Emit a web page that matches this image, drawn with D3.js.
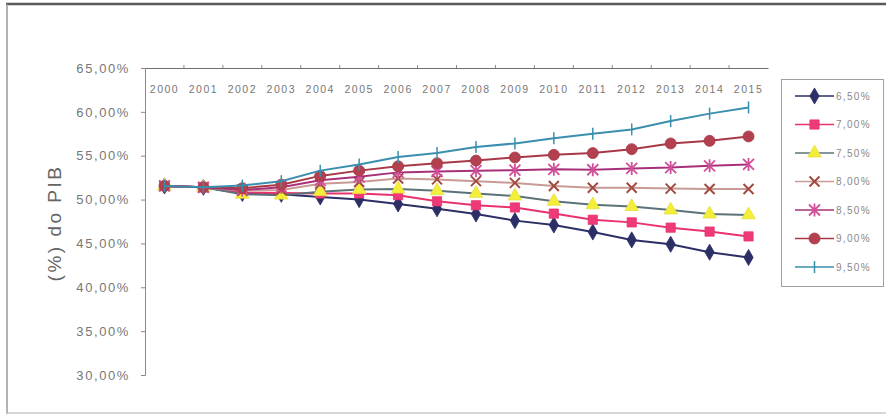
<!DOCTYPE html>
<html>
<head>
<meta charset="utf-8">
<script src="https://cdn.jsdelivr.net/npm/d3@7"></script>
<style>
  html, body { margin: 0; padding: 0; background: #fff; }
  svg { display: block; font-family: "Liberation Sans", Arial, sans-serif; }
</style>
</head>
<body>
<svg id="chart" width="886" height="420"></svg>
<script>
// Debt (% of GDP) projections, one series per rate scenario
const years = ["2000","2001","2002","2003","2004","2005","2006","2007","2008","2009","2010","2011","2012","2013","2014","2015"];
const seriesNames = ["6,50%","7,00%","7,50%","8,00%","8,50%","9,00%","9,50%"];
const s650 = [51.55, 51.4, 50.7, 50.6, 50.3, 50.0, 49.5, 48.95, 48.35, 47.6, 47.1, 46.3, 45.4, 44.9, 44.0, 43.4];
const s700 = [51.55, 51.4, 50.8, 50.75, 50.7, 50.7, 50.5, 49.8, 49.35, 49.1, 48.4, 47.7, 47.4, 46.8, 46.35, 45.8];
const s750 = [51.55, 51.4, 50.6, 50.5, 50.9, 51.15, 51.2, 51.0, 50.7, 50.4, 49.8, 49.4, 49.2, 48.8, 48.35, 48.25];
const s800 = [51.55, 51.4, 51.0, 51.1, 51.8, 52.0, 52.4, 52.3, 52.1, 51.9, 51.55, 51.35, 51.35, 51.25, 51.2, 51.2];
const s850 = [51.55, 51.4, 51.1, 51.4, 52.2, 52.6, 53.1, 53.2, 53.3, 53.35, 53.45, 53.4, 53.55, 53.65, 53.85, 54.0];
const s900 = [51.55, 51.4, 51.3, 51.7, 52.7, 53.3, 53.8, 54.15, 54.45, 54.8, 55.1, 55.3, 55.75, 56.4, 56.7, 57.2];
const s950 = [51.55, 51.4, 51.6, 52.1, 53.3, 54.0, 54.85, 55.3, 56.0, 56.4, 57.0, 57.5, 58.0, 58.95, 59.8, 60.5];
const yTicks = [30, 35, 40, 45, 50, 55, 60, 65];

const seriesValues = [s650, s700, s750, s800, s850, s900, s950];

// look of each scenario: line colour, marker shape and marker colour
const styles = [
  { line: "#2b2f66", marker: "diamond",  fill: "#2b2f66", stroke: "#2b2f66" },
  { line: "#e8336e", marker: "square",   fill: "#ee3a78", stroke: "#e8336e" },
  { line: "#5b7378", marker: "triangle", fill: "#f2ee3a", stroke: "#e8e040" },
  { line: "#c99a96", marker: "x",        fill: "#a24a40" },
  { line: "#a8307a", marker: "star",     fill: "#d2509a" },
  { line: "#a83848", marker: "circle",   fill: "#b2404e", stroke: "#a83848" },
  { line: "#3a8fae", marker: "plus",     fill: "#3a8fae" }
];

const svg = d3.select("#chart");

// outer frame
svg.append("line").attr("x1", 6).attr("x2", 886).attr("y1", 4).attr("y2", 4)
  .attr("stroke", "#5a5a5a").attr("stroke-width", 2.5);
svg.append("line").attr("x1", 7).attr("x2", 7).attr("y1", 4).attr("y2", 414)
  .attr("stroke", "#9a9a9a").attr("stroke-width", 1.5);
svg.append("line").attr("x1", 7).attr("x2", 886).attr("y1", 413).attr("y2", 413)
  .attr("stroke", "#c8c8c8").attr("stroke-width", 1.5);

const plot = { left: 145, right: 768, top: 68, bottom: 375 };

const x = d3.scaleBand().domain(years).range([plot.left, plot.right]);
const y = d3.scaleLinear().domain([30, 65]).range([plot.bottom, plot.top]);
const cx = d => x(d) + x.bandwidth() / 2;

// value axis on the left
const yAxis = d3.axisLeft(y).tickValues(yTicks).tickSize(4).tickPadding(11)
  .tickFormat(d => d3.format(".2f")(d).replace(".", ",") + "%");
const gy = svg.append("g").attr("transform", `translate(${plot.left},0)`).call(yAxis);
gy.select(".domain").attr("stroke", "#8a8a8a");
gy.selectAll(".tick line").attr("stroke", "#8a8a8a");
gy.selectAll(".tick text").attr("fill", "#777").attr("font-size", 13)
  .attr("letter-spacing", 1.6);

// category axis along the top edge, labels just below it
const xAxis = d3.axisTop(x).tickSize(0).tickPadding(-25);
const gx = svg.append("g").attr("transform", `translate(0,${plot.top})`).call(xAxis);
gx.select(".domain").attr("stroke", "#707070").attr("stroke-width", 1.2);
gx.selectAll(".tick text").attr("fill", "#777").attr("font-size", 10.5)
  .attr("letter-spacing", 1.5);
// small tick marks between categories
svg.append("g").selectAll("line").data(years.slice(1)).join("line")
  .attr("x1", d => x(d)).attr("x2", d => x(d))
  .attr("y1", plot.top - 3).attr("y2", plot.top)
  .attr("stroke", "#8a8a8a");

// axis title
svg.append("text")
  .attr("transform", `translate(61,223) rotate(-90)`)
  .attr("text-anchor", "middle").attr("fill", "#666").attr("font-size", 19)
  .attr("letter-spacing", 2.5)
  .text("(%)  do PIB");

const sym = {
  diamond: d3.symbol().type(d3.symbolDiamond).size(75),
  square: d3.symbol().type(d3.symbolSquare).size(85),
  triangle: d3.symbol().type(d3.symbolTriangle).size(80),
  circle: d3.symbol().type(d3.symbolCircle).size(95)
};

function drawMarker(g, st, px, py) {
  if (st.marker === "x") {
    const r = 5;
    g.append("path").attr("d", `M${px - r},${py - r}L${px + r},${py + r}M${px - r},${py + r}L${px + r},${py - r}`)
      .attr("stroke", st.fill).attr("stroke-width", 2).attr("fill", "none");
  } else if (st.marker === "star") {
    const r = 5.5;
    g.append("path").attr("d",
      `M${px - r},${py - r}L${px + r},${py + r}M${px - r},${py + r}L${px + r},${py - r}M${px},${py - r - 1}L${px},${py + r + 1}`)
      .attr("stroke", st.fill).attr("stroke-width", 1.8).attr("fill", "none");
  } else if (st.marker === "plus") {
    const r = 6;
    g.append("path").attr("d", `M${px},${py - r}L${px},${py + r}`)
      .attr("stroke", st.fill).attr("stroke-width", 1.5).attr("fill", "none");
  } else {
    g.append("path").attr("d", sym[st.marker]())
      .attr("transform", `translate(${px},${py})`)
      .attr("fill", st.fill).attr("stroke", st.stroke).attr("stroke-width", 0.8);
  }
}

const line = d3.line().x((d, i) => cx(years[i])).y(d => y(d));

seriesValues.forEach((vals, k) => {
  const st = styles[k];
  const g = svg.append("g");
  g.append("path").datum(vals).attr("d", line)
    .attr("fill", "none").attr("stroke", st.line).attr("stroke-width", 2);
  vals.forEach((v, i) => drawMarker(g, st, cx(years[i]), y(v)));
});

// legend
const lg = svg.append("g");
lg.append("rect").attr("x", 781.5).attr("y", 79.5).attr("width", 102).attr("height", 207)
  .attr("fill", "#fff").attr("stroke", "#a0a0a0");
seriesNames.forEach((name, k) => {
  const st = styles[k];
  const ly = 96 + k * 28.5;
  lg.append("line").attr("x1", 795).attr("x2", 834).attr("y1", ly).attr("y2", ly)
    .attr("stroke", st.line).attr("stroke-width", 1.6);
  drawMarker(lg, st, 814.5, ly);
  lg.append("text").attr("x", 836).attr("y", ly + 3.5).attr("fill", "#888")
    .attr("font-size", 10).attr("letter-spacing", 1.3).text(name);
});
</script>
</body>
</html>
